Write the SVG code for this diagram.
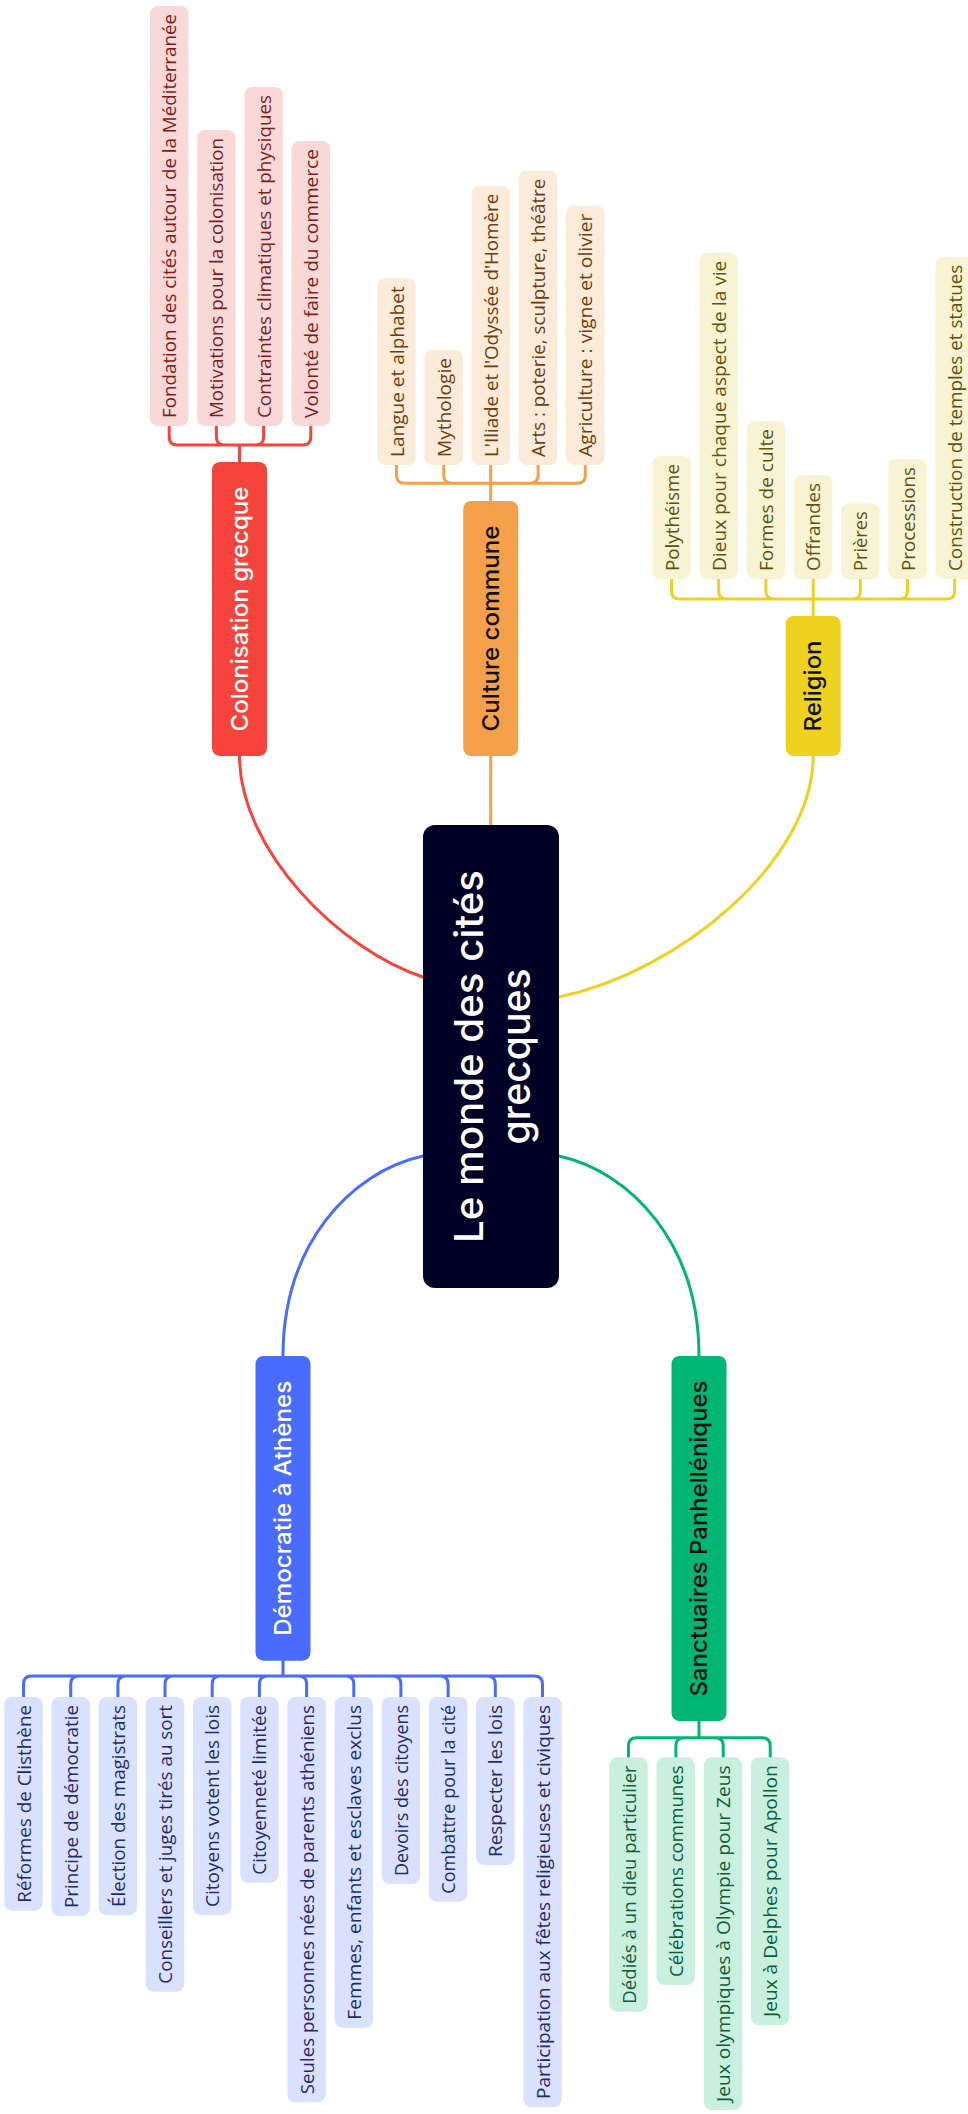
<svg xmlns="http://www.w3.org/2000/svg" width="968" height="2114" viewBox="0 0 968 2114">
<style>
text{font-family:"Open Sans","Liberation Sans",sans-serif;text-anchor:middle;dominant-baseline:central}
.leaf text{font-size:17.5px}
.main text{font-family:Inter,"Open Sans",sans-serif;font-size:23px;font-weight:500}
.ctr text{font-family:Inter,"Open Sans",sans-serif;font-size:39px;font-weight:500}
.red .lf{fill:#fad8d7}.red text{fill:#7c1d1d}
.ora .lf{fill:#fcebd8}.ora text{fill:#6b3d12}
.yel .lf{fill:#f8f4d3}.yel text{fill:#5c5212}
.blu .lf{fill:#d9e1fe}.blu text{fill:#1f2b6b}
.grn .lf{fill:#c9f0df}.grn text{fill:#0d5c3a}
.conn path{fill:none;stroke-width:3;stroke-linecap:round}
.cr{stroke:#f6433b}.co{stroke:#f5a04b}.cy{stroke:#eed21f}.cb{stroke:#4a6cfe}.cg{stroke:#00b674}
</style>
<g class="conn" id="connectors">
<path class="cr" d="M239.5 756 C239.5 850 340 950 423 977"/>
<path class="co" d="M490.7 756 V825"/>
<path class="cy" d="M813.2 756 C813.2 860 680 972 559 997"/>
<path class="cb" d="M423 1156 C350 1172 283 1245 283 1356"/>
<path class="cg" d="M559 1156 C632 1172 699 1245 699 1356"/>
<path class="cr" d="M239.5 462 V445 M239.5 445 H177.2 Q169.2 445 169.2 437 V426 M239.5 445 H224.4 Q216.4 445 216.4 437 V426 M239.5 445 H255.6 Q263.6 445 263.6 437 V426 M239.5 445 H302.8 Q310.8 445 310.8 437 V426"/>
<path class="co" d="M490.7 501 V465 M490.7 483.3 H404.5 Q396.5 483.3 396.5 475.3 V465 M490.7 483.3 H451.7 Q443.7 483.3 443.7 475.3 V465 M490.7 483.3 H530.1 Q538.1 483.3 538.1 475.3 V465 M490.7 483.3 H577.3 Q585.3 483.3 585.3 475.3 V465"/>
<path class="cy" d="M813.2 616 V579 M813.2 599 H679.5 Q671.5 599 671.5 591 V579 M813.2 599 H726.7 Q718.7 599 718.7 591 V579 M813.2 599 H773.9 Q765.9 599 765.9 591 V579 M813.2 599 H852.3 Q860.3 599 860.3 591 V579 M813.2 599 H899.5 Q907.5 599 907.5 591 V579 M813.2 599 H946.7 Q954.7 599 954.7 591 V579"/>
<path class="cb" d="M283 1660.7 V1676 M283 1676 H31.5 Q23.5 1676 23.5 1684 V1697 M283 1676 H78.7 Q70.7 1676 70.7 1684 V1697 M283 1676 H125.9 Q117.9 1676 117.9 1684 V1697 M283 1676 H173 Q165 1676 165 1684 V1697 M283 1676 H220.2 Q212.2 1676 212.2 1684 V1697 M283 1676 H267.4 Q259.4 1676 259.4 1684 V1697 M283 1676 H298.6 Q306.6 1676 306.6 1684 V1697 M283 1676 H345.8 Q353.8 1676 353.8 1684 V1697 M283 1676 H392.9 Q400.9 1676 400.9 1684 V1697 M283 1676 H440.1 Q448.1 1676 448.1 1684 V1697 M283 1676 H487.3 Q495.3 1676 495.3 1684 V1697 M283 1676 H534.5 Q542.5 1676 542.5 1684 V1697"/>
<path class="cg" d="M699 1721 V1737.7 M699 1737.7 H636.5 Q628.5 1737.7 628.5 1745.7 V1757.3 M699 1737.7 H683.9 Q675.9 1737.7 675.9 1745.7 V1757.3 M699 1737.7 H715.2 Q723.2 1737.7 723.2 1745.7 V1757.3 M699 1737.7 H762.2 Q770.2 1737.7 770.2 1745.7 V1757.3"/>
</g>
<g id="center" class="ctr">
<rect x="423" y="825" width="136" height="463" rx="12" fill="#000026"/>
<g transform="translate(491 1056.5) rotate(-90)">
<text x="0" y="-23" fill="#fff" textLength="373" lengthAdjust="spacingAndGlyphs">Le monde des cités</text>
<text x="0" y="24" fill="#fff" textLength="176" lengthAdjust="spacingAndGlyphs">grecques</text>
</g>
</g>
<g class="main">
<g id="n-colonisation"><rect x="212" y="462" width="55" height="294" rx="8" fill="#f6433b"/><text transform="translate(239.5 609) rotate(-90)" fill="#fff" textLength="245" lengthAdjust="spacingAndGlyphs">Colonisation grecque</text></g>
<g id="n-culture"><rect x="463.2" y="501" width="55" height="255" rx="8" fill="#f5a04b"/><text transform="translate(490.7 628.5) rotate(-90)" fill="#111" textLength="206" lengthAdjust="spacingAndGlyphs">Culture commune</text></g>
<g id="n-religion"><rect x="785.7" y="616" width="55" height="140" rx="8" fill="#eed21f"/><text transform="translate(813.2 686) rotate(-90)" fill="#111" textLength="91" lengthAdjust="spacingAndGlyphs">Religion</text></g>
<g id="n-democratie"><rect x="255.5" y="1356" width="55" height="304.7" rx="8" fill="#4a6cfe"/><text transform="translate(283 1508.35) rotate(-90)" fill="#fff" textLength="255" lengthAdjust="spacingAndGlyphs">Démocratie à Athènes</text></g>
<g id="n-sanctuaires"><rect x="671.5" y="1356" width="55" height="365" rx="8" fill="#00b674"/><text transform="translate(699 1538.5) rotate(-90)" fill="#111" textLength="316" lengthAdjust="spacingAndGlyphs">Sanctuaires Panhelléniques</text></g>
</g>
<g class="leaf red">
<g id="c1"><rect class="lf" x="150" y="6" width="38.4" height="420" rx="8"/><text transform="translate(169.2 216) rotate(-90)" textLength="404" lengthAdjust="spacingAndGlyphs">Fondation des cités autour de la Méditerranée</text></g>
<g id="c2"><rect class="lf" x="197.2" y="130" width="38.4" height="296" rx="8"/><text transform="translate(216.4 278) rotate(-90)" textLength="280" lengthAdjust="spacingAndGlyphs">Motivations pour la colonisation</text></g>
<g id="c3"><rect class="lf" x="244.4" y="87" width="38.4" height="339" rx="8"/><text transform="translate(263.6 256.5) rotate(-90)" textLength="323" lengthAdjust="spacingAndGlyphs">Contraintes climatiques et physiques</text></g>
<g id="c4"><rect class="lf" x="291.6" y="141" width="38.4" height="285" rx="8"/><text transform="translate(310.8 283.5) rotate(-90)" textLength="269" lengthAdjust="spacingAndGlyphs">Volonté de faire du commerce</text></g>
</g>
<g class="leaf ora">
<g id="o1"><rect class="lf" x="377.3" y="278.3" width="38.4" height="186.7" rx="8"/><text transform="translate(396.5 371.65) rotate(-90)" textLength="170.7" lengthAdjust="spacingAndGlyphs">Langue et alphabet</text></g>
<g id="o2"><rect class="lf" x="424.5" y="350" width="38.4" height="115" rx="8"/><text transform="translate(443.7 407.5) rotate(-90)" textLength="99" lengthAdjust="spacingAndGlyphs">Mythologie</text></g>
<g id="o3"><rect class="lf" x="471.7" y="185.7" width="38.4" height="279.3" rx="8"/><text transform="translate(490.9 325.35) rotate(-90)" textLength="263.3" lengthAdjust="spacingAndGlyphs">L'Iliade et l'Odyssée d'Homère</text></g>
<g id="o4"><rect class="lf" x="518.9" y="170.7" width="38.4" height="294.3" rx="8"/><text transform="translate(538.1 317.85) rotate(-90)" textLength="278.3" lengthAdjust="spacingAndGlyphs">Arts : poterie, sculpture, théâtre</text></g>
<g id="o5"><rect class="lf" x="566.1" y="205.7" width="38.4" height="259.3" rx="8"/><text transform="translate(585.3 335.35) rotate(-90)" textLength="243.3" lengthAdjust="spacingAndGlyphs">Agriculture : vigne et olivier</text></g>
</g>
<g class="leaf yel">
<g id="y1"><rect class="lf" x="652.3" y="456" width="38.4" height="123" rx="8"/><text transform="translate(671.5 517.5) rotate(-90)" textLength="107" lengthAdjust="spacingAndGlyphs">Polythéisme</text></g>
<g id="y2"><rect class="lf" x="699.5" y="252.7" width="38.4" height="326.3" rx="8"/><text transform="translate(718.7 415.85) rotate(-90)" textLength="310.3" lengthAdjust="spacingAndGlyphs">Dieux pour chaque aspect de la vie</text></g>
<g id="y3"><rect class="lf" x="746.7" y="421" width="38.4" height="158" rx="8"/><text transform="translate(765.9 500) rotate(-90)" textLength="142" lengthAdjust="spacingAndGlyphs">Formes de culte</text></g>
<g id="y4"><rect class="lf" x="793.9" y="475" width="38.4" height="104" rx="8"/><text transform="translate(813.1 527) rotate(-90)" textLength="88" lengthAdjust="spacingAndGlyphs">Offrandes</text></g>
<g id="y5"><rect class="lf" x="841.1" y="503.3" width="38.4" height="75.7" rx="8"/><text transform="translate(860.3 541.15) rotate(-90)" textLength="59.7" lengthAdjust="spacingAndGlyphs">Prières</text></g>
<g id="y6"><rect class="lf" x="888.3" y="459" width="38.4" height="120" rx="8"/><text transform="translate(907.5 519) rotate(-90)" textLength="104" lengthAdjust="spacingAndGlyphs">Processions</text></g>
<g id="y7"><rect class="lf" x="935.5" y="256.7" width="38.4" height="322.3" rx="8"/><text transform="translate(954.7 417.85) rotate(-90)" textLength="306.3" lengthAdjust="spacingAndGlyphs">Construction de temples et statues</text></g>
</g>
<g class="leaf blu">
<g id="b1"><rect class="lf" x="4.3" y="1697" width="38.4" height="213.7" rx="8"/><text transform="translate(23.5 1803.85) rotate(-90)" textLength="197.7" lengthAdjust="spacingAndGlyphs">Réformes de Clisthène</text></g>
<g id="b2"><rect class="lf" x="51.5" y="1697" width="38.4" height="219" rx="8"/><text transform="translate(70.7 1806.5) rotate(-90)" textLength="203" lengthAdjust="spacingAndGlyphs">Principe de démocratie</text></g>
<g id="b3"><rect class="lf" x="98.7" y="1697" width="38.4" height="218" rx="8"/><text transform="translate(117.9 1806) rotate(-90)" textLength="202" lengthAdjust="spacingAndGlyphs">Élection des magistrats</text></g>
<g id="b4"><rect class="lf" x="145.8" y="1697" width="38.4" height="294.7" rx="8"/><text transform="translate(165 1844.35) rotate(-90)" textLength="278.7" lengthAdjust="spacingAndGlyphs">Conseillers et juges tirés au sort</text></g>
<g id="b5"><rect class="lf" x="193" y="1697" width="38.4" height="218" rx="8"/><text transform="translate(212.2 1806) rotate(-90)" textLength="202" lengthAdjust="spacingAndGlyphs">Citoyens votent les lois</text></g>
<g id="b6"><rect class="lf" x="240.2" y="1697" width="38.4" height="185.7" rx="8"/><text transform="translate(259.4 1789.85) rotate(-90)" textLength="169.7" lengthAdjust="spacingAndGlyphs">Citoyenneté limitée</text></g>
<g id="b7"><rect class="lf" x="287.4" y="1697" width="38.4" height="405.3" rx="8"/><text transform="translate(306.6 1899.65) rotate(-90)" textLength="389.3" lengthAdjust="spacingAndGlyphs">Seules personnes nées de parents athéniens</text></g>
<g id="b8"><rect class="lf" x="334.6" y="1697" width="38.4" height="330.7" rx="8"/><text transform="translate(353.8 1862.35) rotate(-90)" textLength="314.7" lengthAdjust="spacingAndGlyphs">Femmes, enfants et esclaves exclus</text></g>
<g id="b9"><rect class="lf" x="381.7" y="1697" width="38.4" height="187" rx="8"/><text transform="translate(400.9 1790.5) rotate(-90)" textLength="171" lengthAdjust="spacingAndGlyphs">Devoirs des citoyens</text></g>
<g id="b10"><rect class="lf" x="428.9" y="1697" width="38.4" height="204.7" rx="8"/><text transform="translate(448.1 1799.35) rotate(-90)" textLength="188.7" lengthAdjust="spacingAndGlyphs">Combattre pour la cité</text></g>
<g id="b11"><rect class="lf" x="476.1" y="1697" width="38.4" height="168" rx="8"/><text transform="translate(495.3 1781) rotate(-90)" textLength="152" lengthAdjust="spacingAndGlyphs">Respecter les lois</text></g>
<g id="b12"><rect class="lf" x="523.3" y="1697" width="38.4" height="410" rx="8"/><text transform="translate(542.5 1902) rotate(-90)" textLength="394" lengthAdjust="spacingAndGlyphs">Participation aux fêtes religieuses et civiques</text></g>
</g>
<g class="leaf grn">
<g id="g1"><rect class="lf" x="609.3" y="1757.3" width="38.4" height="254.4" rx="8"/><text transform="translate(628.5 1884.5) rotate(-90)" textLength="238.4" lengthAdjust="spacingAndGlyphs">Dédiés à un dieu particulier</text></g>
<g id="g2"><rect class="lf" x="656.5" y="1757.3" width="38.4" height="227.7" rx="8"/><text transform="translate(675.7 1871.15) rotate(-90)" textLength="211.7" lengthAdjust="spacingAndGlyphs">Célébrations communes</text></g>
<g id="g3"><rect class="lf" x="703.7" y="1757.3" width="38.4" height="352.7" rx="8"/><text transform="translate(722.9 1933.65) rotate(-90)" textLength="336.7" lengthAdjust="spacingAndGlyphs">Jeux olympiques à Olympie pour Zeus</text></g>
<g id="g4"><rect class="lf" x="750.9" y="1757.3" width="38.4" height="267.7" rx="8"/><text transform="translate(770.1 1891.15) rotate(-90)" textLength="251.7" lengthAdjust="spacingAndGlyphs">Jeux à Delphes pour Apollon</text></g>
</g>
</svg>
